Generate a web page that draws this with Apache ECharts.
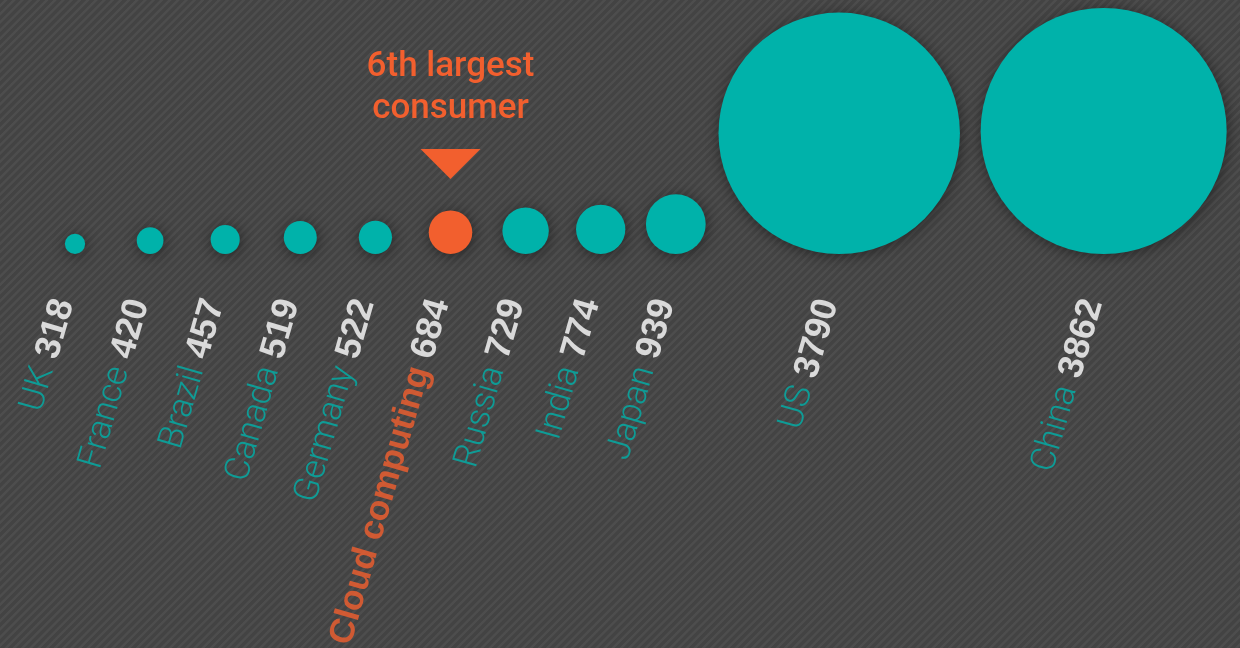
<!DOCTYPE html>
<html>
<head>
<meta charset="utf-8">
<script src="https://cdn.jsdelivr.net/npm/echarts@6/dist/echarts.min.js"></script>
<style>
  html, body { margin: 0; padding: 0; }
  body {
    width: 1240px; height: 648px; overflow: hidden;
    background-color: #444444;
    background-image: repeating-linear-gradient(135deg, #434343 0px, #434343 2.6px, #4d4d4d 3.4px, #4d4d4d 5px, #434343 5.8px);
  }
  #chart { width: 1240px; height: 648px; }
</style>
</head>
<body>
<div id="chart"></div>
<script>
// ---- data ----
const countries = ['UK', 'France', 'Brazil', 'Canada', 'Germany', 'Cloud computing', 'Russia', 'India', 'Japan', 'US', 'China'];
const consumption = [318, 420, 457, 519, 522, 684, 729, 774, 939, 3790, 3862];
const highlightName = 'Cloud computing';
const annotationText = ['6th largest', 'consumer'];

// ---- styles ----
const TEAL = '#00B2AA';
const ORANGE = '#F25F2E';
const PX_PER_UNIT = 0.0637;   // circle diameter per unit of value
const MIN_STEP = 75.1;
const SPREAD = 1.085;
const START_X = 75;

// layout: place circles left to right, bottom aligned
const diam = consumption.map(v => v * PX_PER_UNIT);
const xs = [];
consumption.forEach((v, i) => {
  if (i === 0) { xs.push(START_X); return; }
  const step = Math.max(MIN_STEP, (diam[i - 1] / 2 + diam[i] / 2) * SPREAD);
  xs.push(xs[i - 1] + step);
});

const circleData = countries.map((c, i) => ({
  name: c,
  value: [xs[i], 0, consumption[i]],
  itemStyle: { color: c === highlightName ? ORANGE : TEAL }
}));

const labelData = countries.map((c, i) => ({
  name: c,
  value: [xs[i] - 11, -46, consumption[i]]
}));

const hi = countries.indexOf(highlightName);

const chart = echarts.init(document.getElementById('chart'), null, { renderer: 'canvas' });
chart.setOption({
  backgroundColor: 'transparent',
  animation: false,
  grid: { left: 0, right: 0, top: 0, bottom: 0 },
  xAxis: { type: 'value', min: 0, max: 1240, show: false },
  yAxis: { type: 'value', min: -394, max: 254, show: false },
  series: [
    {
      type: 'scatter',
      silent: true,
      data: circleData,
      symbol: 'circle',
      symbolSize: d => d[2] * PX_PER_UNIT,
      symbolOffset: [0, '-50%'],
      itemStyle: {
        opacity: 1,
        shadowBlur: 14,
        shadowColor: 'rgba(0,0,0,0.45)',
        shadowOffsetX: 1,
        shadowOffsetY: 2
      }
    },
    {
      type: 'scatter',
      silent: true,
      data: labelData,
      symbolSize: 0,
      label: {
        show: true,
        position: 'inside',
        align: 'right',
        verticalAlign: 'middle',
        rotate: 74,
        fontSize: 35,
        fontFamily: 'Liberation Sans',
        formatter: p => {
          const nameStyle = p.name === highlightName ? 'h' : 'n';
          return '{' + nameStyle + '|' + p.name + '}{v| ' + p.value[2] + '}';
        },
        rich: {
          n: { color: TEAL, fontFamily: 'Roboto', fontWeight: 300, fontSize: 35 },
          h: { color: ORANGE, fontFamily: 'Liberation Sans', fontWeight: 'bold', fontSize: 35 },
          v: { color: '#ffffff', fontFamily: 'Liberation Sans', fontWeight: 'bold', fontSize: 36 }
        }
      }
    },
    {
      type: 'scatter',
      silent: true,
      data: [[xs[hi], 90]],
      symbol: 'triangle',
      symbolSize: [60, 30],
      symbolRotate: 180,
      itemStyle: { color: ORANGE, opacity: 1 },
      label: {
        show: true,
        position: 'top',
        distance: 19,
        formatter: annotationText.join('\n'),
        color: ORANGE,
        fontFamily: 'Roboto',
        fontWeight: 500,
        fontSize: 35,
        lineHeight: 42,
        align: 'center'
      }
    }
  ]
});
</script>
</body>
</html>
